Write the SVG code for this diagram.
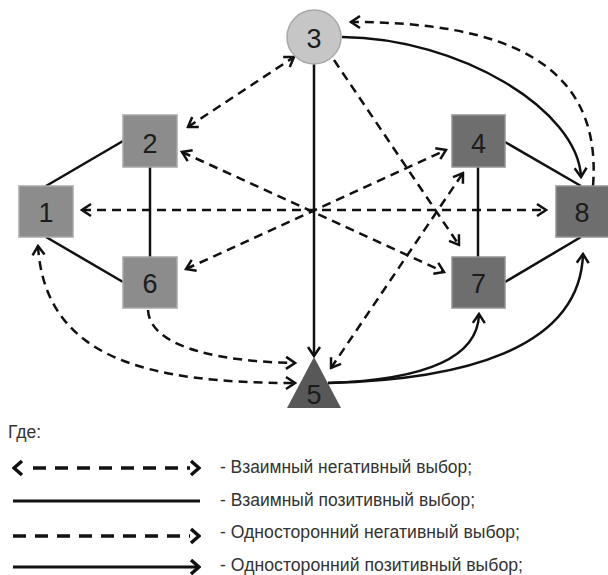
<svg xmlns="http://www.w3.org/2000/svg" width="608" height="575" viewBox="0 0 608 575">
<style>
.bg{fill:#ffffff}
.sq1{fill:#8c8c8c;stroke:#a8a8a8;stroke-width:1.5}
.sq2{fill:#6e6e6e;stroke:#939393;stroke-width:1.5}
.c3{fill:#c6c6c6;stroke:#a9a9a9;stroke-width:1.5}
.t5{fill:#585858}
.lbl{font-family:"Liberation Sans",Arial,sans-serif;font-size:27px;fill:#1c1c1c;text-anchor:middle}
.sol{fill:none;stroke:#111;stroke-width:2.5}
.dsh{fill:none;stroke:#111;stroke-width:2.5;stroke-dasharray:9 6}
.lsol{fill:none;stroke:#111;stroke-width:3}
.ldsh{fill:none;stroke:#111;stroke-width:3.5;stroke-dasharray:13 9}
.leg{font-family:"Liberation Sans",Arial,sans-serif;font-size:17.5px;fill:#333333}
</style>
<defs>
<marker id="ah" markerUnits="userSpaceOnUse" viewBox="-12 -8 14 16" refX="0" refY="0" markerWidth="14" markerHeight="16" orient="auto-start-reverse">
<path d="M-9,-6 L0,0 L-9,6" fill="none" stroke="#111" stroke-width="2.5" stroke-dasharray="none"/>
</marker>
<marker id="lah" markerUnits="userSpaceOnUse" viewBox="-12 -9 14 18" refX="0" refY="0" markerWidth="14" markerHeight="18" orient="auto-start-reverse">
<path d="M-8,-7 L0,0 L-8,7" fill="none" stroke="#111" stroke-width="3.5" stroke-dasharray="none"/>
</marker>
</defs>
<rect class="bg" x="0" y="0" width="608" height="575"/>

<g id="connectors">
<line class="sol" x1="46" y1="186" x2="123" y2="141"/>
<line class="sol" x1="46" y1="237" x2="123" y2="282"/>
<line class="sol" x1="150" y1="167" x2="150" y2="257"/>
<line class="sol" x1="478" y1="167" x2="478" y2="257"/>
<line class="sol" x1="505" y1="142" x2="581" y2="186"/>
<line class="sol" x1="505" y1="282" x2="581" y2="237"/>
<line class="sol" x1="314" y1="64" x2="314" y2="356" marker-end="url(#ah)"/>
<path class="sol" d="M342,37 C460,38 578,110 581,177" marker-end="url(#ah)"/>
<path class="sol" d="M328,383 C420,380 478,360 479,314" marker-end="url(#ah)"/>
<path class="sol" d="M328,383 C460,380 580,350 583,254" marker-end="url(#ah)"/>
<line class="dsh" x1="188" y1="127" x2="294" y2="57" marker-start="url(#ah)" marker-end="url(#ah)"/>
<line class="dsh" x1="182" y1="152" x2="444" y2="272" marker-start="url(#ah)" marker-end="url(#ah)"/>
<line class="dsh" x1="186" y1="269" x2="446" y2="150" marker-start="url(#ah)" marker-end="url(#ah)"/>
<line class="dsh" x1="82" y1="210" x2="546" y2="210" marker-start="url(#ah)" marker-end="url(#ah)"/>
<line class="dsh" x1="331" y1="368" x2="463" y2="173" marker-start="url(#ah)" marker-end="url(#ah)"/>
<path class="dsh" d="M38,246 C45,360 150,383 295,383" marker-start="url(#ah)" marker-end="url(#ah)"/>
<line class="dsh" x1="334" y1="60" x2="459" y2="245" marker-end="url(#ah)"/>
<path class="dsh" d="M148,310 C150,350 230,362 295,363" marker-end="url(#ah)"/>
<path class="dsh" d="M593,186 C603,60 500,22 351,22" marker-end="url(#ah)"/>
</g>

<g id="node1"><rect class="sq1" x="19" y="186" width="54" height="51"/><text class="lbl" x="46" y="222">1</text></g>
<g id="node2"><rect class="sq1" x="123" y="115" width="54" height="52"/><text class="lbl" x="150" y="153">2</text></g>
<g id="node3"><circle class="c3" cx="314" cy="37" r="27"/><text class="lbl" x="314" y="48">3</text></g>
<g id="node4"><rect class="sq2" x="452" y="115" width="53" height="52"/><text class="lbl" x="478.5" y="153">4</text></g>
<g id="node5"><polygon class="t5" points="314,357 287,408 341,408"/><text class="lbl" x="314" y="404">5</text></g>
<g id="node6"><rect class="sq1" x="123" y="257" width="54" height="51"/><text class="lbl" x="150" y="293">6</text></g>
<g id="node7"><rect class="sq2" x="452" y="257" width="53" height="51"/><text class="lbl" x="478.5" y="293">7</text></g>
<g id="node8"><rect class="sq2" x="556" y="186" width="53" height="51"/><text class="lbl" x="582" y="222">8</text></g>

<g id="legend">
<text class="leg" x="8" y="438">Где:</text>
<line class="ldsh" x1="33" y1="468" x2="190" y2="468"/>
<line x1="22" y1="468" x2="14" y2="468" stroke="none" marker-end="url(#lah)"/>
<line x1="190" y1="468" x2="199" y2="468" stroke="none" marker-end="url(#lah)"/>
<text class="leg" x="220" y="473" textLength="252" lengthAdjust="spacingAndGlyphs">- Взаимный негативный выбор;</text>
<line class="lsol" x1="13" y1="501" x2="200" y2="501"/>
<text class="leg" x="220" y="506" textLength="255" lengthAdjust="spacingAndGlyphs">- Взаимный позитивный выбор;</text>
<line class="ldsh" x1="13" y1="536" x2="190" y2="536"/>
<line x1="190" y1="536" x2="199" y2="536" stroke="none" marker-end="url(#lah)"/>
<text class="leg" x="220" y="538" textLength="300" lengthAdjust="spacingAndGlyphs">- Односторонний негативный выбор;</text>
<line class="lsol" x1="13" y1="567" x2="199" y2="567" marker-end="url(#lah)"/>
<text class="leg" x="220" y="571" textLength="303" lengthAdjust="spacingAndGlyphs">- Односторонний позитивный выбор;</text>
</g>
</svg>
